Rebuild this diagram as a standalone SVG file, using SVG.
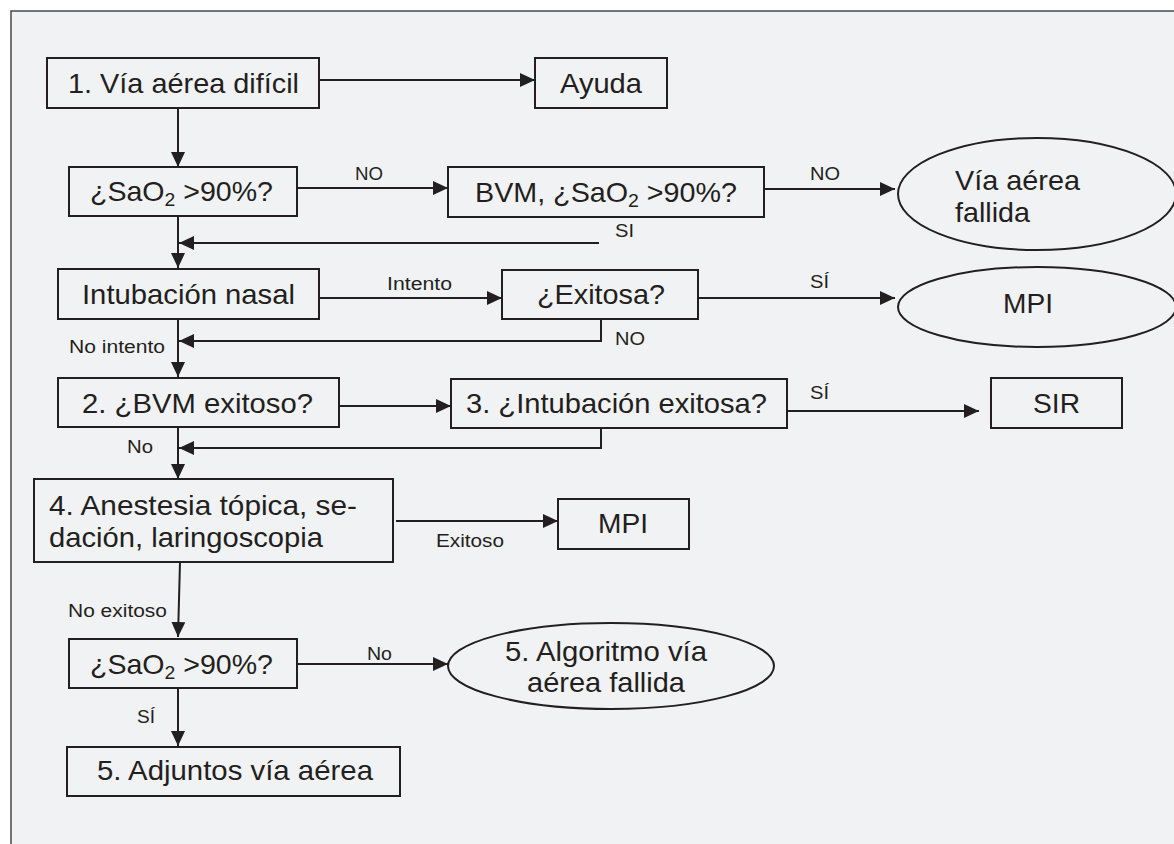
<svg xmlns="http://www.w3.org/2000/svg" width="1174" height="844" viewBox="0 0 1174 844">
<style>
.bg{fill:#f1f2f4;stroke:#4a4a4a;stroke-width:1.5}
.box{fill:none;stroke:#231f20;stroke-width:2}
.t{font-family:"Liberation Sans",Arial,sans-serif;font-size:28px;fill:#231f20}
.l{font-family:"Liberation Sans",Arial,sans-serif;font-size:18px;fill:#231f20}
.c{fill:none;stroke:#231f20;stroke-width:2}
.sub{font-size:19px}
</style>
<defs>
<marker id="ah" markerUnits="userSpaceOnUse" markerWidth="16" markerHeight="14" refX="15" refY="7" orient="auto">
<path d="M0,0 L15,7 L0,14 Z" fill="#231f20"/>
</marker>
</defs>
<rect x="0" y="0" width="1174" height="844" fill="#ffffff"/>
<rect class="bg" x="11" y="11" width="1170" height="840"/>

<g id="connectors">
<line class="c" x1="319" y1="80" x2="535" y2="80" marker-end="url(#ah)"/>
<line class="c" x1="178" y1="108" x2="178" y2="167" marker-end="url(#ah)"/>
<line class="c" x1="297" y1="188" x2="448" y2="188" marker-end="url(#ah)"/>
<line class="c" x1="764" y1="189" x2="895" y2="189" marker-end="url(#ah)"/>
<line class="c" x1="178" y1="216" x2="178" y2="268" marker-end="url(#ah)"/>
<line class="c" x1="599" y1="243" x2="179" y2="243" marker-end="url(#ah)"/>
<line class="c" x1="319" y1="298" x2="502" y2="298" marker-end="url(#ah)"/>
<line class="c" x1="698" y1="298" x2="895" y2="298" marker-end="url(#ah)"/>
<polyline class="c" points="601,319 601,341 179,341" marker-end="url(#ah)"/>
<line class="c" x1="178" y1="319" x2="178" y2="377" marker-end="url(#ah)"/>
<line class="c" x1="339" y1="406" x2="451" y2="406" marker-end="url(#ah)"/>
<line class="c" x1="787" y1="411" x2="979" y2="411" marker-end="url(#ah)"/>
<polyline class="c" points="601,428 601,448 179,448" marker-end="url(#ah)"/>
<line class="c" x1="178" y1="427" x2="178" y2="479" marker-end="url(#ah)"/>
<line class="c" x1="396" y1="521" x2="558" y2="521" marker-end="url(#ah)"/>
<line class="c" x1="180" y1="562" x2="178" y2="637" marker-end="url(#ah)"/>
<line class="c" x1="297" y1="664" x2="448" y2="664" marker-end="url(#ah)"/>
<line class="c" x1="178" y1="688" x2="178" y2="746" marker-end="url(#ah)"/>
</g>

<g id="labels">
<text class="l" x="355" y="180" textLength="28" lengthAdjust="spacingAndGlyphs">NO</text>
<text class="l" x="810" y="180" textLength="30" lengthAdjust="spacingAndGlyphs">NO</text>
<text class="l" x="615" y="237" textLength="19" lengthAdjust="spacingAndGlyphs">SI</text>
<text class="l" x="387" y="290" textLength="65" lengthAdjust="spacingAndGlyphs">Intento</text>
<text class="l" x="810" y="288" textLength="19" lengthAdjust="spacingAndGlyphs">SÍ</text>
<text class="l" x="615" y="345" textLength="30" lengthAdjust="spacingAndGlyphs">NO</text>
<text class="l" x="69" y="353" textLength="96" lengthAdjust="spacingAndGlyphs">No intento</text>
<text class="l" x="810" y="399" textLength="19" lengthAdjust="spacingAndGlyphs">SÍ</text>
<text class="l" x="127" y="453" textLength="26" lengthAdjust="spacingAndGlyphs">No</text>
<text class="l" x="436" y="547" textLength="68" lengthAdjust="spacingAndGlyphs">Exitoso</text>
<text class="l" x="68" y="617" textLength="99" lengthAdjust="spacingAndGlyphs">No exitoso</text>
<text class="l" x="367" y="660" textLength="25" lengthAdjust="spacingAndGlyphs">No</text>
<text class="l" x="137" y="723" textLength="18" lengthAdjust="spacingAndGlyphs">SÍ</text>
</g>

<g id="n1"><rect class="box" x="47" y="58" width="272" height="50"/><text class="t" x="68" y="93" textLength="231" lengthAdjust="spacingAndGlyphs">1. Vía aérea difícil</text></g>
<g id="ayuda"><rect class="box" x="535" y="58" width="132" height="50"/><text class="t" x="560" y="93" textLength="82" lengthAdjust="spacingAndGlyphs">Ayuda</text></g>
<g id="sao2a"><rect class="box" x="69" y="167" width="228" height="49"/><text class="t" x="90" y="201" textLength="183" lengthAdjust="spacingAndGlyphs">¿SaO<tspan class="sub" dy="5">2</tspan><tspan dy="-5"> &gt;90%?</tspan></text></g>
<g id="bvm"><rect class="box" x="448" y="167" width="316" height="50"/><text class="t" x="475" y="202" textLength="262" lengthAdjust="spacingAndGlyphs">BVM, ¿SaO<tspan class="sub" dy="5">2</tspan><tspan dy="-5"> &gt;90%?</tspan></text></g>
<g id="fallida"><ellipse class="box" cx="1037" cy="194" rx="139" ry="56"/><text class="t" x="955" y="190" textLength="125" lengthAdjust="spacingAndGlyphs">Vía aérea</text><text class="t" x="955" y="222" textLength="75" lengthAdjust="spacingAndGlyphs">fallida</text></g>
<g id="nasal"><rect class="box" x="58" y="269" width="261" height="50"/><text class="t" x="82" y="304" textLength="213" lengthAdjust="spacingAndGlyphs">Intubación nasal</text></g>
<g id="exitosa"><rect class="box" x="502" y="270" width="196" height="49"/><text class="t" x="537" y="304" textLength="128" lengthAdjust="spacingAndGlyphs">¿Exitosa?</text></g>
<g id="mpi1"><ellipse class="box" cx="1037" cy="307" rx="139" ry="40"/><text class="t" x="1003" y="313" textLength="50" lengthAdjust="spacingAndGlyphs">MPI</text></g>
<g id="n2"><rect class="box" x="58" y="378" width="281" height="49"/><text class="t" x="82" y="413" textLength="231" lengthAdjust="spacingAndGlyphs">2. ¿BVM exitoso?</text></g>
<g id="n3"><rect class="box" x="451" y="379" width="336" height="49"/><text class="t" x="466" y="413" textLength="301" lengthAdjust="spacingAndGlyphs">3. ¿Intubación exitosa?</text></g>
<g id="sir"><rect class="box" x="991" y="378" width="131" height="50"/><text class="t" x="1033" y="413" textLength="47" lengthAdjust="spacingAndGlyphs">SIR</text></g>
<g id="n4"><rect class="box" x="34" y="479" width="359" height="83"/><text class="t" x="49" y="515" textLength="308" lengthAdjust="spacingAndGlyphs">4. Anestesia tópica, se-</text><text class="t" x="49" y="547" textLength="274" lengthAdjust="spacingAndGlyphs">dación, laringoscopia</text></g>
<g id="mpi2"><rect class="box" x="558" y="499" width="131" height="50"/><text class="t" x="598" y="533" textLength="50" lengthAdjust="spacingAndGlyphs">MPI</text></g>
<g id="sao2b"><rect class="box" x="69" y="639" width="228" height="49"/><text class="t" x="90" y="674" textLength="183" lengthAdjust="spacingAndGlyphs">¿SaO<tspan class="sub" dy="5">2</tspan><tspan dy="-5"> &gt;90%?</tspan></text></g>
<g id="n5a"><ellipse class="box" cx="611" cy="666" rx="163" ry="43"/><text class="t" x="505" y="661" textLength="202" lengthAdjust="spacingAndGlyphs">5. Algoritmo vía</text><text class="t" x="527" y="692" textLength="158" lengthAdjust="spacingAndGlyphs">aérea fallida</text></g>
<g id="n5b"><rect class="box" x="67" y="747" width="333" height="49"/><text class="t" x="97" y="780" textLength="276" lengthAdjust="spacingAndGlyphs">5. Adjuntos vía aérea</text></g>
</svg>
